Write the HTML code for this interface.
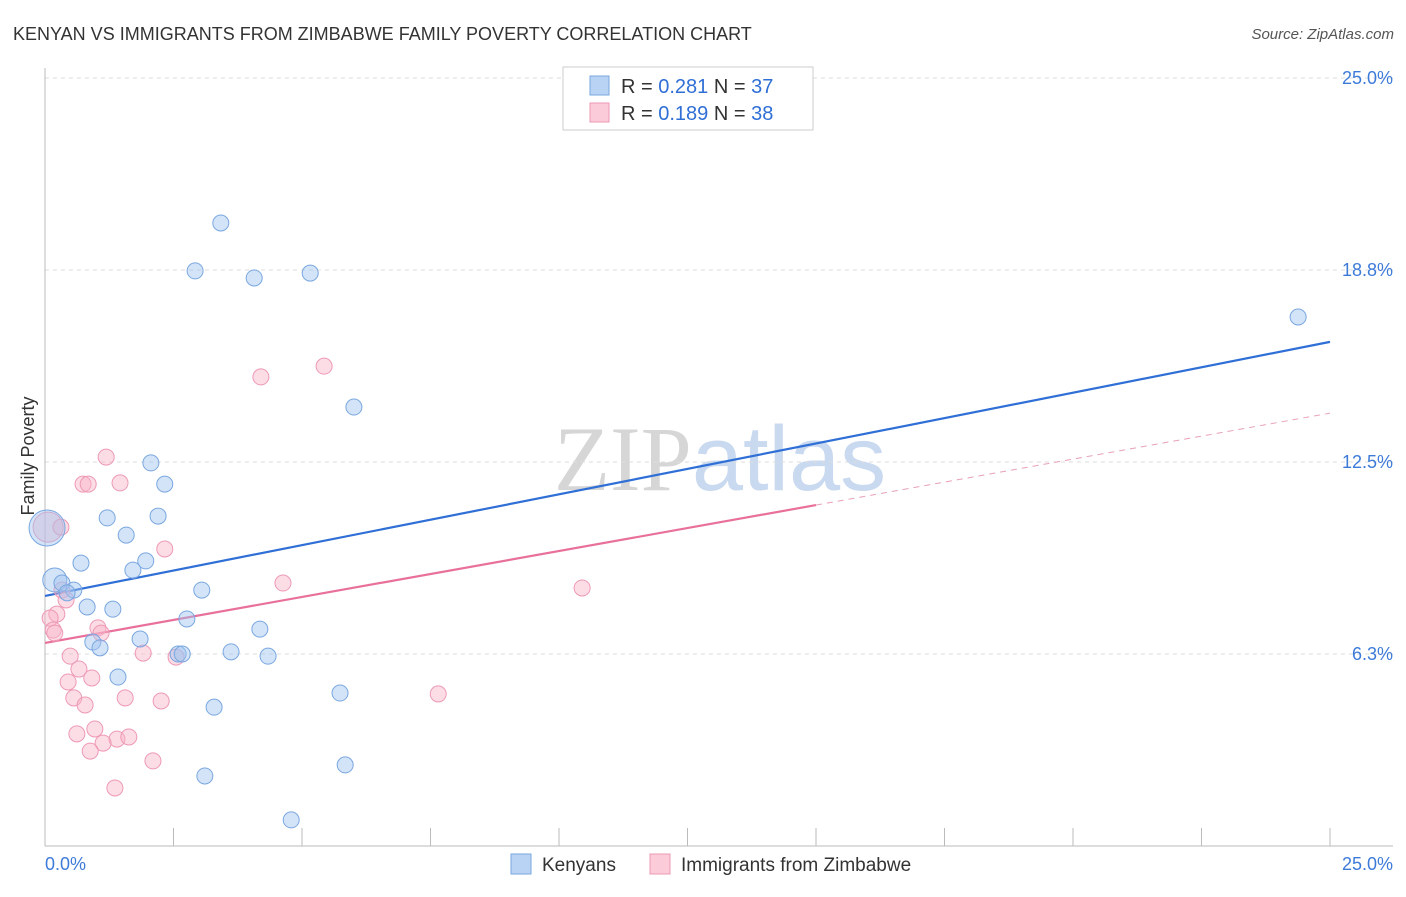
<!DOCTYPE html>
<html><head><meta charset="utf-8"><style>
body{margin:0;background:#fff;font-family:"Liberation Sans",sans-serif;}
svg text{font-family:"Liberation Sans",sans-serif;}
</style></head><body>
<svg id="chart" width="1406" height="892" xmlns="http://www.w3.org/2000/svg">
<text x="13" y="40" font-size="18" fill="#333">KENYAN VS IMMIGRANTS FROM ZIMBABWE FAMILY POVERTY CORRELATION CHART</text>
<text x="1394" y="39" font-size="15" fill="#555" text-anchor="end" font-style="italic">Source: ZipAtlas.com</text>
<text x="720" y="490" font-size="92" text-anchor="middle"><tspan fill="#d6d6d6" font-family="Liberation Serif">ZIP</tspan><tspan fill="#c8d9f0">atlas</tspan></text>
<text transform="translate(34,456) rotate(-90)" font-size="18" fill="#333" text-anchor="middle">Family Poverty</text>
<g id="grid"></g><g id="axes"></g><g id="lines"></g><g id="points"></g>
<g>
<rect x="563" y="67" width="250" height="63" fill="#fff" stroke="#ccc"/>
<rect x="590" y="76" width="19" height="19" fill="#b9d3f5" stroke="#7aa7e0"/>
<text x="621" y="93" font-size="20" fill="#333">R = <tspan fill="#2f6fd6">0.281</tspan>   N = <tspan fill="#2f6fd6">37</tspan></text>
<rect x="590" y="103" width="19" height="19" fill="#fbcbd9" stroke="#ee99b5"/>
<text x="621" y="120" font-size="20" fill="#333">R = <tspan fill="#2f6fd6">0.189</tspan>   N = <tspan fill="#2f6fd6">38</tspan></text>
</g>
<g>
<rect x="511" y="854" width="20" height="20" fill="#b9d3f5" stroke="#7aa7e0"/>
<text x="542" y="871" font-size="19" fill="#333">Kenyans</text>
<rect x="650" y="854" width="20" height="20" fill="#fbcbd9" stroke="#ee99b5"/>
<text x="681" y="871" font-size="19" fill="#333">Immigrants from Zimbabwe</text>
</g>
</svg>
<script>
const yTicks=[6.25,12.5,18.75,25];
const yTickLabels=["6.3%","12.5%","18.8%","25.0%"];
const xTickCount=10;
const kenyanX=[3.42,2.92,4.07,5.16,24.38,6.01,2.06,2.33,1.21,2.20,1.58,0.04,0.70,1.96,1.71,0.19,0.33,0.56,3.05,0.82,1.32,2.76,4.18,1.85,0.93,1.07,2.59,2.67,3.62,4.34,1.42,5.74,3.29,3.11,5.84,4.79,0.43];
const kenyanY=[20.28,18.72,18.49,18.65,17.22,14.29,12.47,11.78,10.68,10.74,10.12,10.35,9.21,9.28,8.98,8.66,8.56,8.33,8.33,7.78,7.71,7.39,7.06,6.74,6.64,6.45,6.25,6.25,6.32,6.18,5.50,4.98,4.52,2.28,2.64,0.85,8.24];
const kenyanR=[8,8,8,8,8,8,8,8,8,8,8,18,8,8,8,12,8,8,8,8,8,8,8,8,8,8,8,8,8,8,8,8,8,8,8,8,8];
const zimX=[0.06,0.31,1.19,0.74,0.84,1.46,4.20,5.43,2.33,4.63,10.45,0.33,0.41,0.23,0.10,0.16,0.19,1.03,1.09,1.91,2.55,0.49,0.66,0.91,0.45,0.56,1.56,2.26,0.78,7.65,0.97,0.62,1.40,1.63,1.13,0.88,2.10,1.36];
const zimY=[10.38,10.38,12.66,11.78,11.78,11.82,15.27,15.62,9.67,8.56,8.40,8.33,8.01,7.55,7.42,7.03,6.93,7.10,6.93,6.28,6.15,6.18,5.76,5.47,5.34,4.82,4.82,4.72,4.59,4.95,3.81,3.65,3.48,3.55,3.35,3.09,2.77,1.89];
const zimR=[15,8,8,8,8,8,8,8,8,8,8,8,8,8,8,8,8,8,8,8,8,8,8,8,8,8,8,8,8,8,8,8,8,8,8,8,8,8];
const kenyanTrend=[8.14,16.41];
const zimTrend=[6.61,14.09];
const zimSolidEnd=15;

const NS="http://www.w3.org/2000/svg";
const X0=45,X1=1330,Y0=846,Y1=78;
const sx=v=>X0+(v/25)*(X1-X0);
const sy=v=>Y0-(v/25)*(Y0-Y1);
function mk(tag,attrs,parent){const e=document.createElementNS(NS,tag);for(const k in attrs)e.setAttribute(k,attrs[k]);document.getElementById(parent).appendChild(e);return e;}

yTicks.forEach((t,i)=>{
 const g=mk('line',{x1:X0,x2:1393,y1:sy(t),y2:sy(t),stroke:'#ddd','stroke-dasharray':'4,4'},'grid');
 
 
 const l=mk('text',{x:1393,y:sy(t)+6,'font-size':18,fill:'#3d7bd9','text-anchor':'end'},'axes');
 l.textContent=yTickLabels[i];
 
 
});
const ax=mk('line',{x1:X0,x2:X0,y1:68,y2:Y0,stroke:'#bbb'},'axes');


const bx=mk('line',{x1:X0,x2:1393,y1:Y0,y2:Y0,stroke:'#bbb'},'axes');


for(let i=0;i<=xTickCount;i++){
 const t=mk('line',{x1:sx(i*2.5),x2:sx(i*2.5),y1:Y0,y2:Y0-18,stroke:'#bbb'},'axes');
 
 
}
[["0.0%",X0,'start'],["25.0%",1393,'end']].forEach(a=>{
 const t=mk('text',{x:a[1],y:870,'font-size':18,fill:'#3d7bd9','text-anchor':a[2]},'axes');
 t.textContent=a[0];
 
 
});

function dots(xs,ys,rs,fill,stroke,name){
 xs.forEach((x,i)=>{
  const c=mk('circle',{cx:sx(x),cy:sy(ys[i]),r:rs[i],fill:fill,stroke:stroke,'stroke-width':1},'points');
  
  
 });
}
dots(zimX,zimY,zimR,'rgba(248,180,200,0.45)','#ee99b5','zimbabwe-point');
dots(kenyanX,kenyanY,kenyanR,'rgba(160,196,240,0.45)','#7aa7e0','kenyan-point');

const lb=mk('line',{x1:sx(0),y1:sy(kenyanTrend[0]),x2:sx(25),y2:sy(kenyanTrend[1]),stroke:'#2f6fd6','stroke-width':2.2},'lines');


const zAt=x=>zimTrend[0]+(zimTrend[1]-zimTrend[0])*x/25;
const lp=mk('line',{x1:sx(0),y1:sy(zAt(0)),x2:sx(zimSolidEnd),y2:sy(zAt(zimSolidEnd)),stroke:'#e8709a','stroke-width':2.2},'lines');


const ld=mk('line',{x1:sx(zimSolidEnd),y1:sy(zAt(zimSolidEnd)),x2:sx(25),y2:sy(zAt(25)),stroke:'#e8a0b8','stroke-width':1,'stroke-dasharray':'6,5'},'lines');


</script>
</body></html>
